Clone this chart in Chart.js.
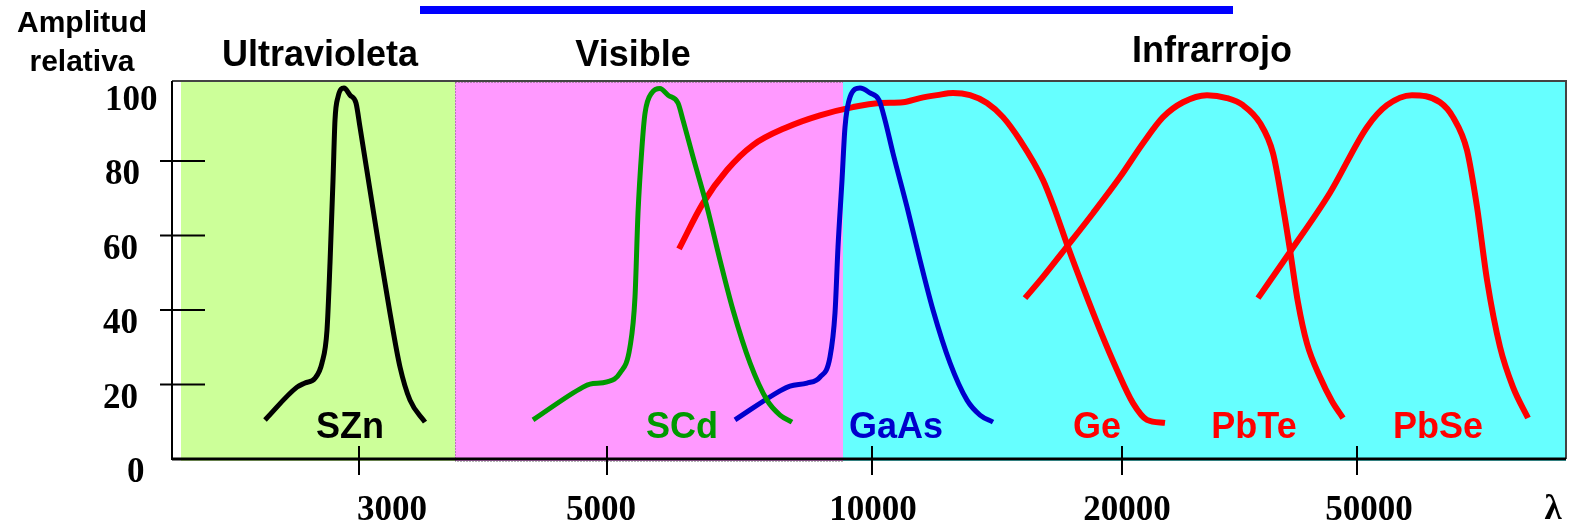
<!DOCTYPE html>
<html>
<head>
<meta charset="utf-8">
<script src="https://cdn.jsdelivr.net/npm/chart.js@4.4.1/dist/chart.umd.min.js"></script>
<style>
  html, body { margin: 0; padding: 0; background: #fff; }
  #wrap { width: 1571px; height: 525px; }
</style>
</head>
<body>
<div id="wrap"><canvas id="chartEspectro" width="1571" height="525"></canvas></div>
<script>
// the wavelength axis of the original is not to scale, so x is a position along the axis
const xTickPos = [187, 435, 700, 950, 1185];
const xTickLabels = ['3000', '5000', '10000', '20000', '50000'];
const yTickValues = [0, 20, 40, 60, 80, 100];

const regions = ['Ultravioleta', 'Visible', 'Infrarrojo'];
const regionEdges = [9, 283, 671, 1394];
const regionColors = ['#CCFF99', '#FF99FF', '#66FFFF'];

const sensorNames = ['SZn', 'SCd', 'GaAs', 'Ge', 'PbTe', 'PbSe'];
const sensorColors = ['#000000', '#009900', '#0000CC', '#FF0000', '#FF0000', '#FF0000'];
const sensorLabelPos = [178, 510, 724, 925, 1082, 1266];

const szn = [[93,10.5],[125,19.3],[133,20.4],[143,21.7],[150,25.8],[155,34.6],[158,52.6],[161,74.8],[163,91.0],[166,97.2],[172,99.6],[178,97.7],[184,95.6],[188,89.1],[198,72.2],[208,55.3],[218,39.2],[228,24.7],[238,15.8],[253,9.9]];
const scd = [[361,10.5],[411,19.3],[418,20.1],[435,20.7],[448,23.1],[458,30.1],[463,43.5],[466,66.0],[470,83.8],[473,92.8],[480,98.4],[488,99.5],[496,97.7],[506,95.6],[511,91.0],[521,81.1],[535,67.7],[548,53.4],[561,40.0],[578,25.8],[595,15.8],[608,11.8],[620,9.9]];
const gaas = [[563,10.5],[608,18.3],[618,19.6],[635,20.4],[648,22.0],[658,27.4],[663,39.2],[666,56.9],[670,74.8],[673,89.1],[678,97.2],[688,99.6],[698,98.3],[707,96.4],[713,91.0],[721,82.1],[735,67.7],[748,53.4],[761,40.0],[778,25.8],[795,15.8],[808,11.8],[821,9.9]];
const ge = [[507,56.4],[531,68.7],[555,77.6],[581,84.3],[615,89.1],[648,92.3],[681,94.5],[708,95.6],[731,95.8],[748,96.9],[765,97.7],[781,98.3],[798,97.7],[815,95.6],[831,91.8],[848,85.6],[871,74.9],[883,66.8],[896,56.9],[911,46.2],[928,34.6],[945,23.9],[961,15.0],[975,10.5],[993,9.7]];
const pbte = [[853,43.2],[871,48.9],[896,57.4],[921,66.0],[948,75.7],[971,84.8],[991,91.8],[1011,95.8],[1035,97.7],[1055,96.9],[1071,95.0],[1088,90.2],[1101,82.1],[1111,67.7],[1118,56.1],[1126,42.0],[1135,31.0],[1148,22.0],[1160,15.5],[1171,11.0]];
const pbse = [[1086,43.2],[1118,55.6],[1158,71.5],[1195,89.1],[1215,95.0],[1240,97.7],[1268,95.8],[1281,91.8],[1295,82.9],[1305,67.7],[1315,48.1],[1328,30.1],[1341,19.3],[1356,11.0]];

const sensorSeries = [szn, scd, gaas, ge, pbte, pbse];

// layout bits that are only about drawing
const regionTitleX = [148, 461, 1040];
const regionTitleBase = [66, 66, 62];
const xLabelShift = [33, -6, 1, 5, 12];
const yLabelLeft = [127, 103, 103, 103, 105, 105];
const sansBold = 'bold 36px "Liberation Sans", Arial, sans-serif';
const serifBold = 'bold 35px "Liberation Serif", "Times New Roman", serif';

const fondoPlugin = {
    id: 'fondo',
    beforeDatasetsDraw(chart) {
        const { ctx, chartArea, scales } = chart;
        const y0 = scales.y.getPixelForValue(0);
        ctx.save();
        regions.forEach((r, i) => {
            const a = scales.x.getPixelForValue(regionEdges[i]);
            const b = scales.x.getPixelForValue(regionEdges[i + 1]);
            ctx.fillStyle = regionColors[i];
            ctx.fillRect(a, chartArea.top + 1, b - a, y0 + 2 - chartArea.top - 1);
            if (i === 1) {
                ctx.strokeStyle = '#666';
                ctx.lineWidth = 1;
                ctx.setLineDash([1, 2]);
                ctx.strokeRect(a + 0.5, chartArea.top + 1.5, b - a, y0 + 2 - chartArea.top - 1);
                ctx.setLineDash([]);
            }
        });
        ctx.restore();
    },
    afterDatasetsDraw(chart) {
        const { ctx, chartArea, scales } = chart;
        const { x, y } = scales;
        const y0 = y.getPixelForValue(0);
        ctx.save();

        // frame
        ctx.strokeStyle = '#444';
        ctx.lineWidth = 2;
        ctx.beginPath();
        ctx.moveTo(chartArea.left, chartArea.top);
        ctx.lineTo(chartArea.right, chartArea.top);
        ctx.lineTo(chartArea.right, y0);
        ctx.stroke();

        ctx.strokeStyle = '#000';
        ctx.beginPath();
        ctx.moveTo(chartArea.left, chartArea.top);
        ctx.lineTo(chartArea.left, y0 + 1);
        ctx.stroke();
        ctx.lineWidth = 3;
        ctx.beginPath();
        ctx.moveTo(chartArea.left, y0);
        ctx.lineTo(chartArea.right, y0);
        ctx.stroke();

        // y ticks
        ctx.lineWidth = 2;
        ctx.font = serifBold;
        ctx.fillStyle = '#000';
        ctx.textAlign = 'left';
        ctx.textBaseline = 'alphabetic';
        yTickValues.forEach((v, i) => {
            const py = y.getPixelForValue(v);
            if (v > 0 && v < 100) {
                ctx.beginPath();
                ctx.moveTo(chartArea.left - 12, py);
                ctx.lineTo(chartArea.left + 33, py);
                ctx.stroke();
            }
            ctx.fillText(String(v), yLabelLeft[i], py + 23);
        });

        // x ticks
        ctx.textAlign = 'center';
        xTickPos.forEach((v, i) => {
            const px = x.getPixelForValue(v);
            ctx.beginPath();
            ctx.moveTo(px, y0 - 13);
            ctx.lineTo(px, y0 + 16);
            ctx.stroke();
            ctx.fillText(xTickLabels[i], px + xLabelShift[i], 520);
        });
        ctx.fillText('λ', 1553, 519);

        // sensor names
        ctx.font = sansBold;
        sensorNames.forEach((n, i) => {
            ctx.fillStyle = sensorColors[i];
            ctx.fillText(n, x.getPixelForValue(sensorLabelPos[i]), y.getPixelForValue(5.6));
        });

        // region titles
        ctx.fillStyle = '#000';
        regions.forEach((r, i) => {
            ctx.fillText(r, x.getPixelForValue(regionTitleX[i]), regionTitleBase[i]);
        });

        // y axis title
        ctx.font = 'bold 30px "Liberation Sans", Arial, sans-serif';
        ctx.fillText('Amplitud', 82, 32);
        ctx.fillText('relativa', 82, 71);

        // underline of the cut-off heading
        ctx.fillStyle = '#0000FF';
        ctx.fillRect(420, 6, 813, 8);
        ctx.restore();
    }
};

const ctx = document.getElementById('chartEspectro').getContext('2d');
new Chart(ctx, {
    type: 'line',
    data: {
        datasets: sensorSeries.map((s, i) => ({
            label: sensorNames[i],
            data: s.map(p => ({ x: p[0], y: p[1] })),
            borderColor: sensorColors[i],
            borderWidth: i >= 3 ? 6 : 5,
            pointRadius: 0,
            fill: false,
            cubicInterpolationMode: 'monotone'
        }))
    },
    options: {
        responsive: false,
        animation: false,
        devicePixelRatio: 1,
        layout: { padding: { left: 172, top: 81, right: 5, bottom: 66 } },
        scales: {
            x: { type: 'linear', min: 0, max: 1394, display: false },
            y: { min: 0, max: 101.5, display: false }
        },
        plugins: {
            legend: { display: false },
            tooltip: { enabled: false }
        }
    },
    plugins: [fondoPlugin]
});
</script>
</body>
</html>
